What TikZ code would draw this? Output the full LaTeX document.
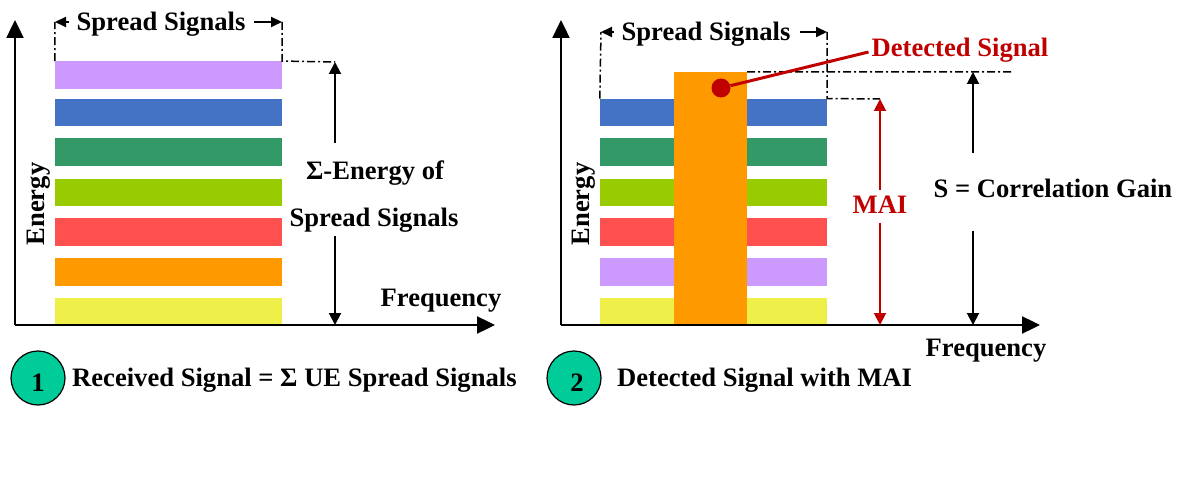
\documentclass[tikz,border=0pt]{standalone}
\usepackage{fontspec}
\setmainfont{Liberation Serif}
\usetikzlibrary{arrows.meta}
\definecolor{lilac}{HTML}{CC99FF}
\definecolor{bluebar}{HTML}{4472C4}
\definecolor{greenbar}{HTML}{339966}
\definecolor{limebar}{HTML}{99CC00}
\definecolor{redbar}{HTML}{FF5050}
\definecolor{orangebar}{HTML}{FF9900}
\definecolor{yellowbar}{HTML}{EFEF4A}
\definecolor{tealdisc}{HTML}{00CC99}
\definecolor{darkred}{HTML}{C00000}
\begin{document}
\begin{tikzpicture}[x=1pt,y=-1pt,
	bar/.style={minimum width=227pt,minimum height=27.5pt,inner sep=0pt},
	lbl/.style={font=\fontsize{26.6}{30}\selectfont\bfseries,inner sep=0pt},
	axis/.style={line width=2.4pt,-{Triangle[length=18pt,width=17pt]}},
	measure/.style={line width=2pt,-{Triangle[length=12pt,width=12pt]}},
	spread/.style={line width=2pt,-{Triangle[length=11pt,width=10pt]}},
	dashdot/.style={line width=1.5pt,dash pattern=on 8pt off 3pt on 2pt off 3pt},
	disc/.style={draw,line width=1.2pt,circle,fill=tealdisc,minimum size=54pt,inner sep=0pt}]
	\useasboundingbox (0,0) rectangle (1187,500);
	% left chart
	\node [bar, fill=lilac] (a1) at (168.5,75) {};
	\node [bar, fill=bluebar] (a2) at (168.5,112.5) {};
	\node [bar, fill=greenbar] (a3) at (168.5,152) {};
	\node [bar, fill=limebar] (a4) at (168.5,192.5) {};
	\node [bar, fill=redbar] (a5) at (168.5,232) {};
	\node [bar, fill=orangebar] (a6) at (168.5,272) {};
	\node [bar, fill=yellowbar] (a7) at (168.5,311.5) {};
	\coordinate (o1) at (15,325);
	\coordinate (ytop1) at (15,20);
	\coordinate (xend1) at (495,325);
	\draw [axis] (o1)--(ytop1);
	\draw [axis] (o1)--(xend1);
	\node [lbl, rotate=90] (en1) at (39,204) {Energy};
	\node [lbl] (fr1) at (441,301) {Frequency};
	\node [lbl] (sp1) at (161,24) {Spread Signals};
	\coordinate (sl1) at (55,22);
	\coordinate (sl1b) at (69,22);
	\coordinate (sr1) at (282,22);
	\coordinate (sr1b) at (254,22);
	\draw [spread] (sl1b)--(sl1);
	\draw [spread] (sr1b)--(sr1);
	\draw [dashdot] (a1.north west)--(sl1);
	\draw [dashdot] (sr1)--(a1.north east)--(335,62);
	\node [lbl] (sum1) at (375,173) {Σ-Energy of};
	\node [lbl] (sum2) at (374,220) {Spread Signals};
	\coordinate (up1) at (335,143);
	\coordinate (top1) at (335,62);
	\coordinate (dn1) at (335,236);
	\coordinate (bot1) at (335,325);
	\draw [measure] (up1)--(top1);
	\draw [measure] (dn1)--(bot1);
	\node [disc] (c1) at (38,378) {};
	\node [lbl] (n1) at (38,383) {1};
	\node [lbl, anchor=west] (cap1) at (72,380) {Received Signal = Σ UE Spread Signals};
	% right chart
	\node [bar, fill=bluebar] (b2) at (713.5,112.5) {};
	\node [bar, fill=greenbar] (b3) at (713.5,152) {};
	\node [bar, fill=limebar] (b4) at (713.5,192.5) {};
	\node [bar, fill=redbar] (b5) at (713.5,232) {};
	\node [bar, fill=lilac] (b6) at (713.5,272) {};
	\node [bar, fill=yellowbar] (b7) at (713.5,311.5) {};
	\node [fill=orangebar, minimum width=73pt, minimum height=254pt, inner sep=0pt] (col) at (710.5,199) {};
	\coordinate (o2) at (561,325);
	\coordinate (ytop2) at (561,20);
	\coordinate (xend2) at (1040,325);
	\draw [axis] (o2)--(ytop2);
	\draw [axis] (o2)--(xend2);
	\node [lbl, rotate=90] (en2) at (584,204) {Energy};
	\node [lbl] (fr2) at (986,351) {Frequency};
	\node [lbl] (sp2) at (706,34) {Spread Signals};
	\coordinate (sl2) at (601,32);
	\coordinate (sl2b) at (614,32);
	\coordinate (sr2) at (827,32);
	\coordinate (sr2b) at (800,32);
	\draw [spread] (sl2b)--(sl2);
	\draw [spread] (sr2b)--(sr2);
	\draw [dashdot] (b2.north west)--(sl2);
	\draw [dashdot] (sr2)--(b2.north east)--(880,99);
	\draw [dashdot] (col.north east)--(1014,72);
	\node [lbl, text=darkred] (det) at (960,50) {Detected Signal};
	\node [circle, fill=darkred, minimum size=19pt, inner sep=0pt] (dot) at (721,88) {};
	\draw [line width=3pt, darkred] (dot)--([xshift=-3pt,yshift=-2pt]det.west);
	\node [lbl, text=darkred] (mai) at (880,205) {MAI};
	\coordinate (mtop) at (880,99);
	\coordinate (mup) at (880,190);
	\coordinate (mdn) at (880,223);
	\coordinate (mbot) at (880,325);
	\draw [measure, darkred] (mup)--(mtop);
	\draw [measure, darkred] (mdn)--(mbot);
	\node [lbl] (gain) at (1053,188) {S = Correlation Gain};
	\coordinate (gtop) at (973,72);
	\coordinate (gup) at (973,153);
	\coordinate (gdn) at (973,231);
	\coordinate (gbot) at (973,325);
	\draw [measure] (gup)--(gtop);
	\draw [measure] (gdn)--(gbot);
	\node [disc] (c2) at (574,378) {};
	\node [lbl] (n2) at (577,383) {2};
	\node [lbl, anchor=west] (cap2) at (617,380) {Detected Signal with MAI};
	\end{tikzpicture}
\end{document}
